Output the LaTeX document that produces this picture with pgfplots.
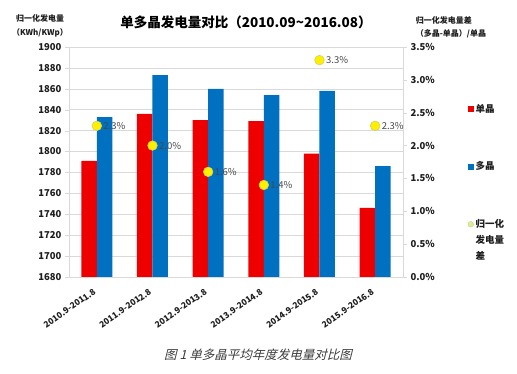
\documentclass[border=0pt]{standalone}
\usepackage{pgfplots}
\pgfplotsset{compat=1.18}
\usepackage{fontspec}
\setmainfont{Noto Sans CJK SC}
\newfontfamily\capfont{Noto Sans CJK SC}[FakeSlant=0.25]
\definecolor{myred}{RGB}{238,0,0}
\definecolor{myblue}{RGB}{0,112,192}
\definecolor{myyellow}{RGB}{255,240,0}
\definecolor{myyellowedge}{RGB}{215,205,90}
\definecolor{legyellow}{RGB}{225,235,150}
\definecolor{gridgray}{RGB}{217,217,217}
\definecolor{txt}{RGB}{30,30,30}
\definecolor{lblgray}{RGB}{70,70,70}
\definecolor{capgray}{RGB}{60,60,60}

\pgfplotstableread{
x mono poly
0 1791 1833
1 1836 1873
2 1830 1860
3 1829 1854
4 1798 1858
5 1746 1786
}\bars
\pgfplotstableread{
x diff
0 2.3
1 2.0
2 1.6
3 1.4
4 3.3
5 2.3
}\diffs

\begin{document}
\begin{tikzpicture}[x=1pt,y=1pt]
\path (0,0) rectangle (517,374);
\begin{axis}[
  at={(69pt,97pt)}, anchor=south west,
  scale only axis, width=334pt, height=230pt,
  xmin=-0.5, xmax=5.5, ymin=1680, ymax=1900,
  ytick distance=20,
  ybar=0pt, bar width=15.5pt,
  xtick={0,...,5},
  xticklabels={2010.9-2011.8,2011.9-2012.8,2012.9-2013.8,2013.9-2014.8,2014.9-2015.8,2015.9-2016.8},
  x tick label style={rotate=35, anchor=north east, font=\bfseries\fontsize{8.5}{10}\selectfont, text=txt, xshift=-4pt, yshift=0pt},
  y tick label style={font=\bfseries\fontsize{9.5}{10}\selectfont, text=txt},
  /pgf/number format/assume math mode=true,
  /pgf/number format/set thousands separator={},
  major x tick style={draw=none},
  extra x ticks={-0.5,0.5,1.5,2.5,3.5,4.5,5.5},
  extra x tick labels={},
  extra x tick style={major tick length=4pt, tick style={gridgray}, grid=none},
  tick align=outside, major tick length=4pt,
  tick style={gridgray},
  ymajorgrids, grid style={gridgray, line width=0.6pt},
  axis line style={gridgray},
  axis y line*=left, axis x line*=bottom,
]
\addplot[fill=myred, draw=none] table[x=x, y=mono] {\bars};
\addplot[fill=myblue, draw=none] table[x=x, y=poly] {\bars};
\end{axis}
\begin{axis}[
  at={(69pt,97pt)}, anchor=south west,
  scale only axis, width=334pt, height=230pt,
  xmin=-0.5, xmax=5.5, ymin=0, ymax=3.5,
  ytick distance=0.5,
  axis x line=none, axis y line*=right,
  axis line style={gridgray},
  tick align=outside, major tick length=4pt, tick style={gridgray},
  yticklabel={\pgfmathprintnumber[fixed,fixed zerofill,precision=1]{\tick}\%},
  y tick label style={font=\bfseries\fontsize{9.5}{10}\selectfont, text=txt},
  /pgf/number format/assume math mode=true,
  legend style={at={(1.185,0.77)}, anchor=north west, draw=none, fill=none,
    font=\bfseries\fontsize{9.5}{12}\selectfont, text=txt, row sep=44pt},
  legend cell align=left,
]
\addlegendimage{only marks, mark=square*, mark size=2.8pt, color=myred}
\addlegendentry{单晶}
\addlegendimage{only marks, mark=square*, mark size=2.8pt, color=myblue}
\addlegendentry{多晶}
\addlegendimage{only marks, mark=*, mark size=2.8pt, fill=legyellow, draw=legyellow!70!gray}
\addlegendentry{\begin{tabular}[t]{@{}l@{}}归一化\\[4pt]发电量\\[4pt]差\end{tabular}}
\addplot[only marks, mark=*, mark size=4.8pt, fill=myyellow, draw=myyellowedge, line width=0.6pt,
  point meta=y,
  nodes near coords={\pgfmathprintnumber[fixed,fixed zerofill,precision=1]{\pgfplotspointmeta}\%},
  nodes near coords style={anchor=west, xshift=3pt, font=\fontsize{9.5}{10}\selectfont, text=lblgray}]
  table[x=x, y=diff] {\diffs};
\end{axis}
\node[font=\bfseries\fontsize{13.5}{15}\selectfont, text=black] at (246,352) {单多晶发电量对比（2010.09\textasciitilde2016.08）};
\node[font=\bfseries\fontsize{8}{10}\selectfont, text=txt, align=center] at (40,348) {归一化发电量\\[4pt]（KWh/KWp）};
\node[font=\bfseries\fontsize{8}{10}\selectfont, text=txt, align=left] at (451,347) {归一化发电量差\\[3pt]（多晶-单晶）/单晶};
\node[font=\capfont\fontsize{12.5}{14}\selectfont, text=capgray] at (258,19) {图 1 单多晶平均年度发电量对比图};
\end{tikzpicture}
\end{document}
